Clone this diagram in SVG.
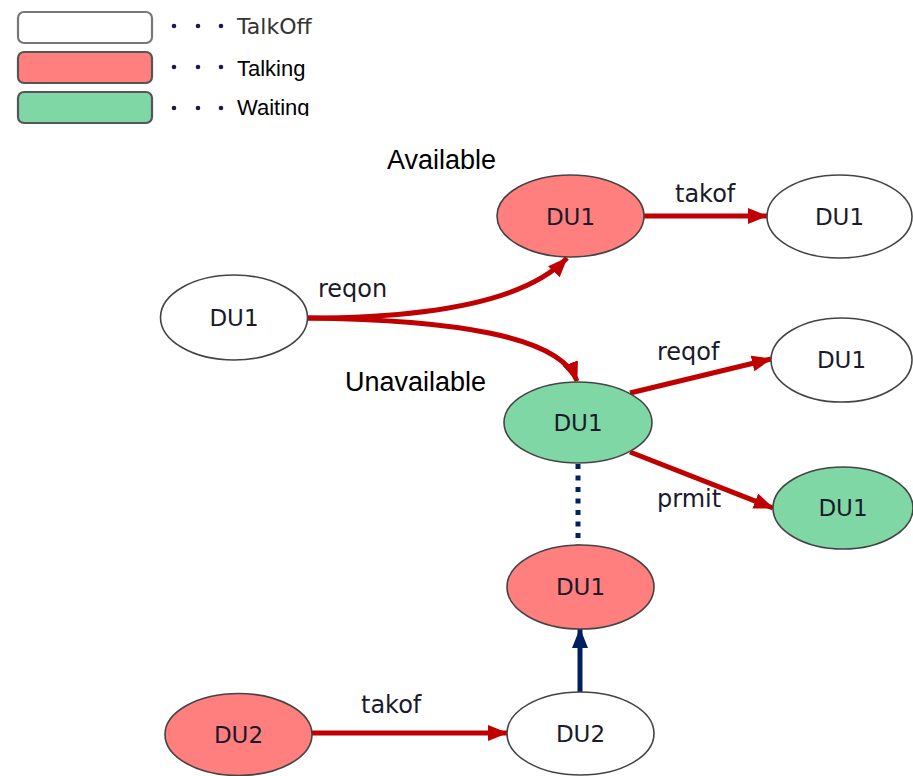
<svg xmlns="http://www.w3.org/2000/svg" width="913" height="776" viewBox="0 0 913 776">
<style>
.white{fill:#ffffff;stroke:#444;stroke-width:1.6}
.red{fill:#ff7f7f;stroke:#444;stroke-width:1.6}
.green{fill:#80d7a6;stroke:#444;stroke-width:1.6}
.nt{font-family:"DejaVu Sans",Verdana,sans-serif;font-size:23px;fill:#1a1a2a;text-anchor:middle}
.el{font-family:"DejaVu Sans",Verdana,sans-serif;font-size:24px;fill:#1a1a2a}
.big{font-family:"Liberation Sans",Arial,sans-serif;font-size:27px;fill:#000}
.leg{font-family:"Liberation Sans",Arial,sans-serif;font-size:22px;fill:#000}
.lbox{stroke-width:2.2}
.redline{fill:none;stroke:#c00000;stroke-width:5}
.dot{fill:#1a1a50}
</style>
<defs>
<marker id="ar" markerUnits="userSpaceOnUse" markerWidth="22" markerHeight="18" refX="19" refY="8" orient="auto">
<path d="M0,0 L20,8 L0,16 Z" fill="#c00000"/>
</marker>
<marker id="ab" markerUnits="userSpaceOnUse" markerWidth="22" markerHeight="18" refX="19" refY="8" orient="auto">
<path d="M0,0 L20,8 L0,16 Z" fill="#002060"/>
</marker>
<clipPath id="wclip"><rect x="0" y="0" width="400" height="116"/></clipPath>
</defs>

<g id="legend">
<rect x="18" y="12" width="134" height="31" rx="6" class="white lbox" style="stroke:#777"/>
<rect x="18" y="52" width="134" height="31" rx="6" class="red lbox" style="stroke:#555"/>
<rect x="18" y="92" width="134" height="31" rx="6" class="green lbox" style="stroke:#555"/>
<circle cx="174" cy="26" r="2.3" class="dot"/><circle cx="198" cy="26" r="2.3" class="dot"/><circle cx="221" cy="26" r="2.3" class="dot"/>
<circle cx="174" cy="67" r="2.3" class="dot"/><circle cx="198" cy="67" r="2.3" class="dot"/><circle cx="221" cy="67" r="2.3" class="dot"/>
<circle cx="174" cy="108" r="2.3" class="dot"/><circle cx="198" cy="108" r="2.3" class="dot"/><circle cx="221" cy="108" r="2.3" class="dot"/>
<text x="237" y="34" style="font-family:'DejaVu Sans',Verdana,sans-serif;font-size:22px;fill:#333">TalkOff</text>
<text x="237" y="76" class="leg">Talking</text>
<text x="237" y="115" class="leg" clip-path="url(#wclip)">Waiting</text>
</g>

<g id="labels">
<text x="387" y="169" class="big">Available</text>
<text x="345" y="391" class="big">Unavailable</text>
</g>

<g id="connectors">
<path d="M307,318 C430,318 525,302 567,258" class="redline" marker-end="url(#ar)"/>
<path d="M307,318 C450,320 560,335 577,381" class="redline" marker-end="url(#ar)"/>
<path d="M644,216 L767,216" class="redline" marker-end="url(#ar)"/>
<path d="M630,393 L771,359" class="redline" marker-end="url(#ar)"/>
<path d="M630,452 L773,508" class="redline" marker-end="url(#ar)"/>
<path d="M312,733 L507,733" class="redline" marker-end="url(#ar)"/>
<path d="M578,464 L578,545" fill="none" stroke="#002060" stroke-width="5" stroke-dasharray="5,6.5"/>
<path d="M580,692 L580,629" fill="none" stroke="#002060" stroke-width="5" marker-end="url(#ab)"/>
<text x="318" y="297" class="el">reqon</text>
<text x="675" y="202" class="el">takof</text>
<text x="657" y="360" class="el">reqof</text>
<text x="657" y="507" class="el">prmit</text>
<text x="361" y="713" class="el">takof</text>
</g>

<g id="n1"><ellipse cx="234" cy="317.5" rx="73.5" ry="42.5" class="white"/><text x="234" y="326" class="nt">DU1</text></g>
<g id="n2"><ellipse cx="570.5" cy="216" rx="73.5" ry="41" class="red"/><text x="570.5" y="225" class="nt">DU1</text></g>
<g id="n3"><ellipse cx="839.5" cy="216.5" rx="72.5" ry="41.5" class="white"/><text x="839.5" y="225" class="nt">DU1</text></g>
<g id="n4"><ellipse cx="841.5" cy="360" rx="70.5" ry="42" class="white"/><text x="841.5" y="368" class="nt">DU1</text></g>
<g id="n5"><ellipse cx="578" cy="422.5" rx="74" ry="40.5" class="green"/><text x="578" y="431" class="nt">DU1</text></g>
<g id="n6"><ellipse cx="843" cy="508" rx="70" ry="41" class="green"/><text x="843" y="516" class="nt">DU1</text></g>
<g id="n7"><ellipse cx="580.5" cy="587" rx="73.5" ry="42" class="red"/><text x="580.5" y="595" class="nt">DU1</text></g>
<g id="n8"><ellipse cx="580.5" cy="733.5" rx="73.5" ry="41.5" class="white"/><text x="580.5" y="742" class="nt">DU2</text></g>
<g id="n9"><ellipse cx="238.5" cy="734.5" rx="73.5" ry="41" class="red"/><text x="238.5" y="743" class="nt">DU2</text></g>
</svg>
